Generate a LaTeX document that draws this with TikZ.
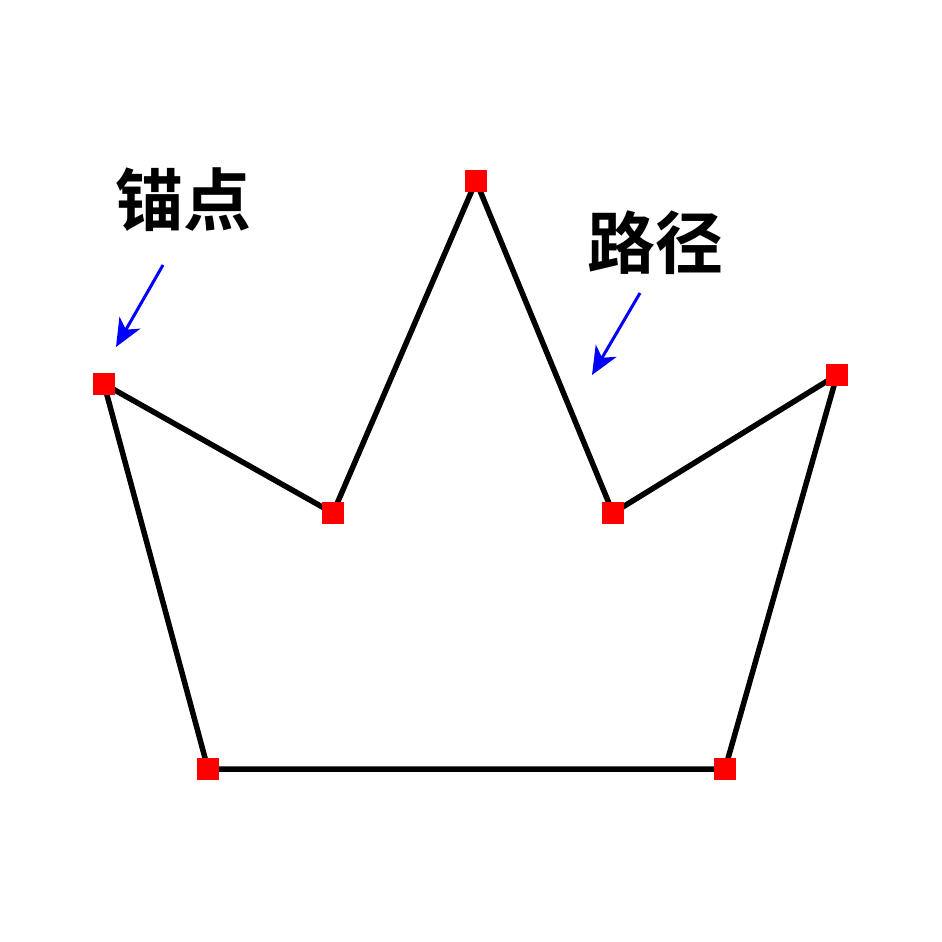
\documentclass[tikz,border=0pt]{standalone}
\usepackage{fontspec}
\newfontfamily\cjk{Noto Sans CJK SC Bold}
\usetikzlibrary{arrows.meta}
\begin{document}
\begin{tikzpicture}[x=1pt,y=-1pt,
  anchorpt/.style={fill=red,minimum size=22pt,inner sep=0pt,outer sep=0pt},
  pathline/.style={line width=5.5pt,line join=miter},
  pointer/.style={draw=blue,line width=3pt,-{Stealth[length=28pt,width=24pt,inset=8pt]}},
  label/.style={font=\cjk\fontsize{68}{68}\selectfont,inner sep=0pt}]
\useasboundingbox (0,0) rectangle (942,942);
\coordinate (p1) at (104,384);
\coordinate (p2) at (333,513);
\coordinate (p3) at (476,181);
\coordinate (p4) at (613,513);
\coordinate (p5) at (837,375);
\coordinate (p6) at (725,769);
\coordinate (p7) at (208,769);
\draw[pathline] (p1) -- (p2) -- (p3) -- (p4) -- (p5) -- (p6) -- (p7) -- cycle;
\foreach \i in {1,...,7} \node[anchorpt] (n\i) at (p\i) {};
\node[label] (t1) at (183,200) {锚点};
\node[label] (t2) at (655,243) {路径};
\coordinate (a1s) at (163,265);
\coordinate (a1e) at (116,347);
\coordinate (a2s) at (640,293);
\coordinate (a2e) at (592,375);
\draw[pointer] (a1s) -- (a1e);
\draw[pointer] (a2s) -- (a2e);
\end{tikzpicture}
\end{document}
